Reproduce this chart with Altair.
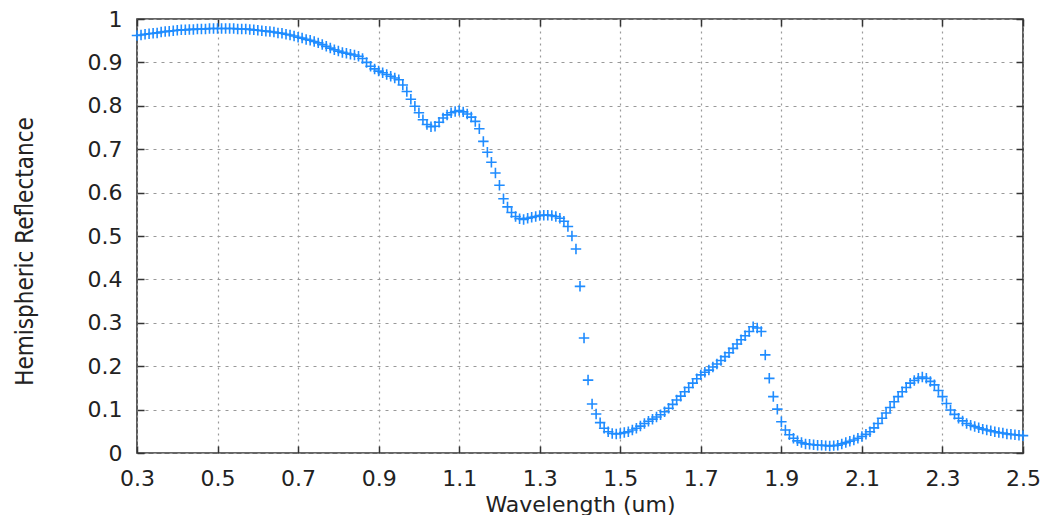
import altair as alt
import numpy as np
import pandas as pd

# Sampling grid (0.30 .. 2.50 um, every 0.01 um)
wavelength = [round(0.30 + 0.01 * i, 2) for i in range(221)]

reflectance = [
    0.962, 0.963, 0.965, 0.966, 0.967, 0.968, 0.970, 0.971, 0.972, 0.973,
    0.974, 0.975, 0.975, 0.976, 0.976, 0.977, 0.977, 0.977, 0.978, 0.978,
    0.978, 0.978, 0.978, 0.978, 0.978, 0.977, 0.977, 0.977, 0.976, 0.975,
    0.974, 0.973, 0.972, 0.971, 0.970, 0.968, 0.967, 0.965, 0.963, 0.961,
    0.958, 0.956, 0.953, 0.951, 0.948, 0.945, 0.941, 0.937, 0.933, 0.929,
    0.926, 0.923, 0.921, 0.919, 0.917, 0.914, 0.909, 0.900, 0.891, 0.885,
    0.880, 0.876, 0.872, 0.868, 0.864, 0.860, 0.848, 0.833, 0.815, 0.799,
    0.784, 0.768, 0.757, 0.752, 0.753, 0.762, 0.772, 0.779, 0.784, 0.787,
    0.789, 0.786, 0.781, 0.774, 0.764, 0.747, 0.718, 0.693, 0.670, 0.645,
    0.617, 0.586, 0.567, 0.554, 0.545, 0.540, 0.538, 0.541, 0.543, 0.545,
    0.547, 0.548, 0.548, 0.547, 0.545, 0.541, 0.534, 0.522, 0.500, 0.470,
    0.384, 0.265, 0.168, 0.113, 0.090, 0.070, 0.057, 0.049, 0.045, 0.044,
    0.045, 0.047, 0.049, 0.053, 0.057, 0.062, 0.068, 0.073, 0.078, 0.083,
    0.088, 0.095, 0.103, 0.112, 0.122, 0.131, 0.141, 0.151, 0.161, 0.171,
    0.180, 0.186, 0.191, 0.198, 0.205, 0.213, 0.222, 0.231, 0.241, 0.251,
    0.261, 0.270, 0.280, 0.291, 0.288, 0.280, 0.226, 0.172, 0.130, 0.101,
    0.072, 0.053, 0.042, 0.034, 0.028, 0.024, 0.021, 0.020, 0.019, 0.018,
    0.018, 0.017, 0.016, 0.017, 0.018, 0.021, 0.024, 0.027, 0.030, 0.034,
    0.038, 0.043, 0.049, 0.058, 0.068, 0.080, 0.092, 0.105, 0.118, 0.130,
    0.141, 0.151, 0.161, 0.167, 0.172, 0.175, 0.172, 0.165, 0.157, 0.144,
    0.130, 0.114, 0.099, 0.089, 0.080, 0.074, 0.068, 0.064, 0.061, 0.058,
    0.055, 0.053, 0.051, 0.049, 0.047, 0.046, 0.044, 0.043, 0.042, 0.041,
    0.040,
]

x_ticks = [0.3, 0.5, 0.7, 0.9, 1.1, 1.3, 1.5, 1.7, 1.9, 2.1, 2.3, 2.5]
y_ticks = [0, 0.1, 0.2, 0.3, 0.4, 0.5, 0.6, 0.7, 0.8, 0.9, 1.0]

df = pd.DataFrame({"wl": wavelength, "r": reflectance})

W, H = 886, 434
FONT = "DejaVu Sans"
COND = "'DejaVu Sans Condensed', 'Liberation Sans Narrow', 'Roboto Condensed', sans-serif"

xscale = alt.Scale(domain=[0.3, 2.5], nice=False)
yscale = alt.Scale(domain=[0, 1], nice=False, zero=True)

base = alt.Chart(df)

main = base.mark_point(
    shape="M-1,0L1,0M0,-1L0,1",
    filled=False,
    size=110,
    strokeWidth=1.6,
    color="#1f8cff",
    opacity=1,
).encode(
    x=alt.X(
        "wl:Q",
        scale=xscale,
        axis=alt.Axis(
            orient="bottom",
            values=x_ticks,
            format=".1f",
            grid=True,
            gridColor="#999999",
            gridDash=[2, 4],
            gridWidth=1.2,
            ticks=False,
            domain=False,
            labelFlush=False,
            labelFont=FONT,
            labelFontSize=22,
            labelColor="#222222",
            labelPadding=15,
            title="Wavelength (um)",
            titleFont=FONT,
            titleFontSize=22,
            titleFontWeight="normal",
            titleColor="#222222",
            titleX=443,
            titleY=51,
            titleBaseline="middle",
            titleAlign="center",
        ),
    ),
    y=alt.Y(
        "r:Q",
        scale=yscale,
        axis=alt.Axis(
            orient="left",
            values=y_ticks,
            format="~g",
            grid=True,
            gridColor="#999999",
            gridDash=[3, 5],
            gridWidth=1.2,
            ticks=False,
            domain=False,
            labelFlush=False,
            labelFont=FONT,
            labelFontSize=22,
            labelColor="#222222",
            labelPadding=15,
            title="Hemispheric Reflectance",
            titleFont=COND,
            titleFontSize=24,
            titleFontWeight="normal",
            titleColor="#222222",
            titleAngle=270,
            titleX=-112,
            titleY=232,
            titleBaseline="middle",
            titleAlign="center",
        ),
    ),
)


def tick_layer(xorient, yorient):
    return base.mark_point(opacity=0).encode(
        x=alt.X(
            "wl:Q",
            scale=xscale,
            axis=alt.Axis(
                orient=xorient, values=x_ticks, labels=False, grid=False,
                domain=False, ticks=True, tickSize=7, tickWidth=1.5,
                tickColor="#333333", offset=-7, title="",
            ),
        ),
        y=alt.Y(
            "r:Q",
            scale=yscale,
            axis=alt.Axis(
                orient=yorient, values=y_ticks, labels=False, grid=False,
                domain=False, ticks=True, tickSize=7, tickWidth=1.5,
                tickColor="#333333", offset=-7, title="",
            ),
        ),
    )


chart = (
    alt.layer(main, tick_layer("bottom", "left"), tick_layer("top", "right"))
    .resolve_axis(x="independent", y="independent")
    .resolve_scale(x="shared", y="shared")
    .properties(
        width=W,
        height=H,
        autosize=alt.AutoSizeParams(type="none"),
        padding={"left": 129, "top": 11, "right": 19, "bottom": 62},
        background="white",
    )
    .configure_view(stroke="#333333", strokeWidth=1.6)
)

chart.save("out.html", embed_options={"renderer": "svg", "actions": False})
